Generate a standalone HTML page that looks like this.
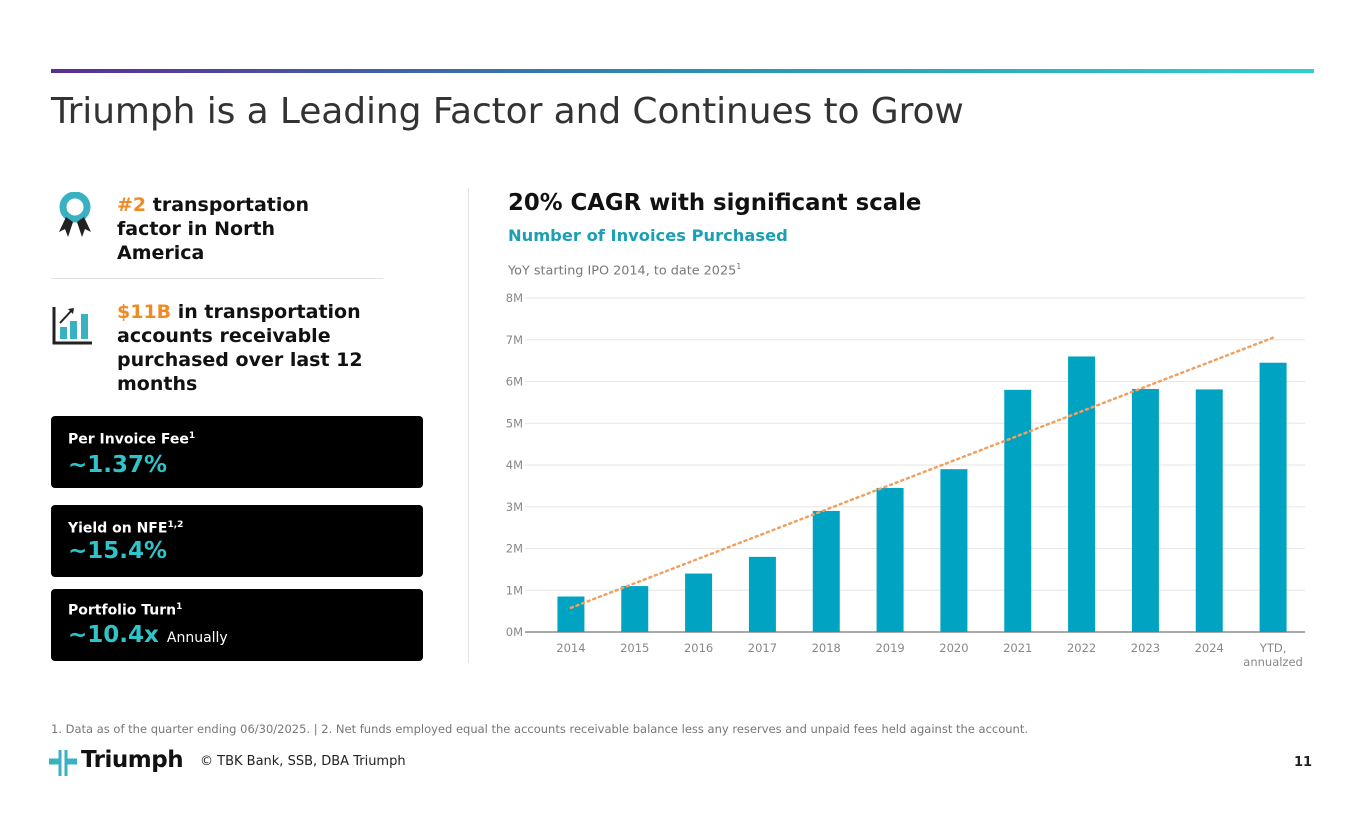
<!DOCTYPE html>
<html><head><meta charset="utf-8"><style>
body{margin:0;width:1365px;height:829px;background:#fff;font-family:"DejaVu Sans","Liberation Sans",sans-serif;position:relative;overflow:hidden}
.a{position:absolute}
.card{position:absolute;left:51px;width:372px;background:#000;border-radius:4px;color:#fff}
.card .l{position:absolute;left:17px;font-weight:bold;font-size:14px}
.card .v{position:absolute;left:17px;font-weight:bold;font-size:23px;color:#2ec4c9}
.big{font-weight:bold;font-size:19px;line-height:24px;color:#111}
.org{color:#f08a24}
</style></head><body>
<div class="a" style="left:51px;top:69px;width:1263px;height:4px;background:linear-gradient(90deg,#5b2d91,#2a8fb0 50%,#2fd0d0)"></div>
<div class="a" style="left:51px;top:91px;font-size:36px;color:#333;letter-spacing:-0.1px;white-space:nowrap">Triumph is a Leading Factor and Continues to Grow</div>

<svg class="a" style="left:56px;top:192px" width="40" height="48"><circle cx="19" cy="15" r="12" fill="none" stroke="#3ab0c3" stroke-width="7"/><path d="M10 25 L3 40 L9 37 L12 45 L17 30Z M28 25 L35 40 L29 37 L26 45 L21 30Z" fill="#222"/></svg>
<div class="a big" style="left:117px;top:193px;width:230px"><span class="org">#2</span> transportation factor in North America</div>
<div class="a" style="left:51px;top:278px;width:332px;height:1px;background:#e2e2e2"></div>
<svg class="a" style="left:52px;top:305px" width="42" height="42"><path d="M2 2V38H40" fill="none" stroke="#222" stroke-width="3"/><rect x="8" y="22" width="7" height="12" fill="#3ab0c3"/><rect x="18" y="16" width="7" height="18" fill="#3ab0c3"/><rect x="29" y="9" width="7" height="25" fill="#3ab0c3"/><path d="M8 18 L20 5" stroke="#222" stroke-width="2"/><path d="M16 4 L22 3 L21 9Z" fill="#222"/></svg>
<div class="a big" style="left:117px;top:300px;width:275px"><span class="org">$11B</span> in transportation accounts receivable purchased over last 12 months</div>

<div class="card" style="top:416px;height:72px"><div class="l" style="top:15px">Per Invoice Fee<sup style="font-size:9px">1</sup></div><div class="v" style="top:36px">~1.37%</div></div>
<div class="card" style="top:505px;height:72px"><div class="l" style="top:15px">Yield on NFE<sup style="font-size:9px">1,2</sup></div><div class="v" style="top:33px">~15.4%</div></div>
<div class="card" style="top:589px;height:72px"><div class="l" style="top:13px">Portfolio Turn<sup style="font-size:9px">1</sup></div><div class="v" style="top:33px">~10.4x <span style="font-size:14px;font-weight:normal;color:#fff">Annually</span></div></div>

<div class="a" style="left:468px;top:188px;width:1px;height:475px;background:#e2e2e2"></div>
<div class="a" style="left:508px;top:190px;font-size:22.8px;font-weight:bold;color:#111">20% CAGR with significant scale</div>
<div class="a" style="left:508px;top:226px;font-size:16.3px;font-weight:bold;color:#1a9fb5">Number of Invoices Purchased</div>
<div class="a" style="left:508px;top:262px;font-size:12.8px;color:#777">YoY starting IPO 2014, to date 2025<sup style="font-size:8px">1</sup></div>

<svg class="a" id="chart" style="left:0;top:0" width="1365" height="700"></svg>

<div class="a" style="left:51px;top:722px;font-size:11.5px;color:#777;white-space:nowrap">1. Data as of the quarter ending 06/30/2025. | 2. Net funds employed equal the accounts receivable balance less any reserves and unpaid fees held against the account.</div>
<svg class="a" style="left:49px;top:750px" width="28" height="26"><path d="M11 0V10H0V13H11V26M17 0V10H28V13H17V26" fill="none" stroke="#3ab0c3" stroke-width="3"/></svg>
<div class="a" style="left:81px;top:747px;font-size:23px;font-weight:bold;color:#111;letter-spacing:-0.5px">Triumph</div>
<div class="a" style="left:200px;top:754px;font-size:13px;color:#222">© TBK Bank, SSB, DBA Triumph</div>
<div class="a" style="left:1294px;top:755px;font-size:13px;font-weight:bold;color:#222">11</div>

<script>
const categories=["2014","2015","2016","2017","2018","2019","2020","2021","2022","2023","2024","YTD,|annualzed"];
const invoices=[0.85,1.1,1.4,1.8,2.9,3.45,3.9,5.8,6.6,5.82,5.81,6.45];
const trendStartEnd=[0.58,7.05];
const yTicks=[0,1,2,3,4,5,6,7,8];
const NS="http://www.w3.org/2000/svg";
const svg=document.getElementById('chart');
const gx0=525,x0=539,x1=1305,y0=632,yTop=298,yMax=8;
const step=(x1-x0)/categories.length;
const xs=i=>x0+step*(i+0.5);
const ys=v=>y0-(v/yMax)*(y0-yTop);
function mk(t,a){const e=document.createElementNS(NS,t);for(const k in a)e.setAttribute(k,a[k]);svg.appendChild(e);return e;}
yTicks.forEach(t=>{
  const l=mk('line',{x1:gx0,x2:x1,y1:ys(t),y2:ys(t),stroke:t?'#e6e6e6':'#555','stroke-width':1});
  
  
  const tx=mk('text',{x:gx0-2,y:ys(t)+4,'text-anchor':'end','font-size':11.5,fill:'#888','font-family':'DejaVu Sans,sans-serif'});
  tx.textContent=t+'M';
  
  
});
invoices.forEach((v,i)=>{
  const r=mk('rect',{x:xs(i)-13.5,y:ys(v),width:27,height:y0-ys(v),fill:'#00a3c1'});
  
  
  categories[i].split('|').forEach((s,j)=>{
    const tx=mk('text',{x:xs(i),y:652+j*14,'text-anchor':'middle','font-size':11.5,fill:'#888','font-family':'DejaVu Sans,sans-serif'});
    tx.textContent=s;
    
    
  });
});
const tl=mk('line',{x1:xs(0),y1:ys(trendStartEnd[0]),x2:xs(categories.length-1),y2:ys(trendStartEnd[1]),stroke:'#f0a060','stroke-width':2.5,'stroke-dasharray':'2 4','stroke-linecap':'round'});


</script>
</body></html>
